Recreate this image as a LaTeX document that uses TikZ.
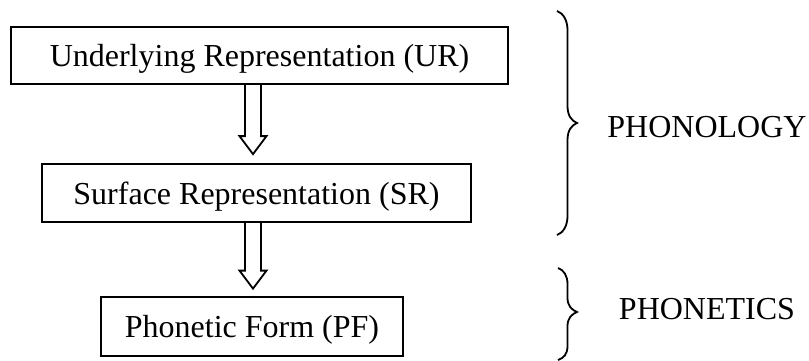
\documentclass[tikz,border=0pt]{standalone}
\usepackage{fontspec}
\setmainfont{Liberation Serif}
\usetikzlibrary{calc}
\newcommand\hollowdown[2]{%
  \draw[hollowarr] ($(#1)+(-8,0)$) -- ($(#2)+(-8,-18)$) -- ($(#2)+(-13.5,-18)$) -- (#2)
    -- ($(#2)+(13.5,-18)$) -- ($(#2)+(8,-18)$) -- ($(#1)+(8,0)$);}
\begin{document}
\begin{tikzpicture}[x=1pt,y=-1pt,
  box/.style={draw, line width=1.8pt, inner sep=0pt, text depth=0pt, font=\fontsize{32}{38}\selectfont},
  sidetext/.style={inner sep=0pt, font=\fontsize{32}{38}\selectfont},
  hollowarr/.style={draw, line width=1.8pt, line join=miter},
  bracepath/.style={draw, line width=1.8pt}]
\useasboundingbox (0,0) rectangle (809,361);
\node[box, minimum width=497pt, minimum height=57pt] (ur) at (259.5,55.5) {Underlying Representation (UR)};
\node[box, minimum width=429pt, minimum height=58pt] (sr) at (256.5,193) {Surface Representation (SR)};
\node[box, minimum width=302pt, minimum height=59pt] (pf) at (252,326.5) {Phonetic Form (PF)};
\coordinate (ax) at (253,0);
\coordinate (a1s) at (ur.south -| ax);
\coordinate (a1t) at ($(sr.north -| ax)+(0,-9)$);
\coordinate (a2s) at (sr.south -| ax);
\coordinate (a2t) at ($(pf.north -| ax)+(0,-7.5)$);
\hollowdown{a1s}{a1t}
\hollowdown{a2s}{a2t}
% braces
\draw[bracepath] (557,11) .. controls (563,13) and (567.5,20) .. (567.5,30) -- (567.5,106)
  .. controls (567.5,116) and (572,121) .. (577,123)
  .. controls (572,125) and (567.5,130) .. (567.5,140) -- (567.5,216)
  .. controls (567.5,226) and (563,233) .. (557,235);
\draw[bracepath] (558,268) .. controls (564,270) and (567.5,276) .. (567.5,284) -- (567.5,298)
  .. controls (567.5,306) and (572,310) .. (577,312)
  .. controls (572,314) and (567.5,318) .. (567.5,326) -- (567.5,346)
  .. controls (567.5,354) and (564,358) .. (558,360);
\node[sidetext] (phonology) at (707,127) {PHONOLOGY};
\node[sidetext] (phonetics) at (707,309) {PHONETICS};
\end{tikzpicture}
\end{document}
